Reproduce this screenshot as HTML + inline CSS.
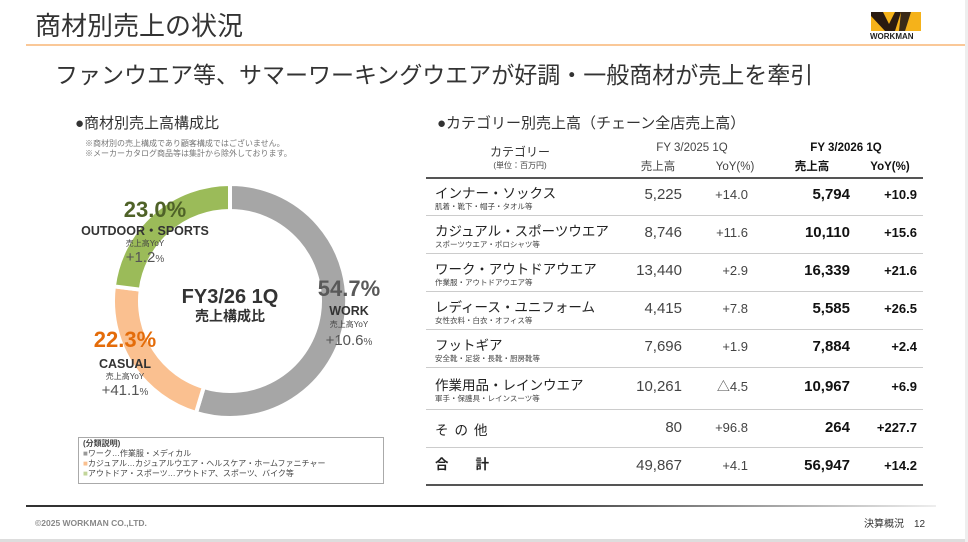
<!DOCTYPE html>
<html><head><meta charset="utf-8">
<style>
*{margin:0;padding:0;box-sizing:border-box}
body{width:968px;height:542px;background:#fff;position:relative;overflow:hidden;font-family:"Liberation Sans","Noto Sans CJK JP",sans-serif;color:#333;line-height:1.2}
.a{position:absolute;white-space:nowrap}
.c{transform:translateX(-50%);text-align:center}
.r{transform:translateX(-100%);text-align:right}
.lab{font-size:13.5px;color:#222}
.sub{font-size:7.5px;color:#444}
.n{font-size:15px;color:#444}
.b{font-size:15px;font-weight:bold;color:#111}
.hl{position:absolute;left:426px;width:497px;height:1px;background:#ccc}
</style></head><body>
<div class="a" style="left:35px;top:11px;font-size:26px;color:#333">商材別売上の状況</div>
<div class="a" style="left:26px;top:44px;width:942px;height:2px;background:#fac898"></div>
<div class="a" style="left:871px;top:12px;width:50px;height:19px;background:#f5b21a"></div>
<svg class="a" style="left:871px;top:12px" width="50" height="19"><polygon points="0,0 12,0 18,12 24,0 30,0 24,19 14,19 0,4" fill="#2a1a10"/><polygon points="30,0 40,0 34,19 28,19" fill="#3a2a18"/></svg>
<div class="a" style="left:870px;top:32px;font-size:8px;font-weight:bold;color:#222">WORKMAN</div>

<div class="a" style="left:55px;top:62px;font-size:23px;color:#333">ファンウエア等、サマーワーキングウエアが好調・一般商材が売上を牽引</div>

<div class="a" style="left:75px;top:115px;font-size:15px;color:#333">●商材別売上高構成比</div>
<div class="a" style="left:85px;top:139px;font-size:8px;color:#777;line-height:10px">※商材別の売上構成であり顧客構成ではございません。<br>※メーカーカタログ商品等は集計から除外しております。</div>

<svg class="a" style="left:0;top:0" width="400" height="440">
<path d="M230,184 A117,117 0 1 1 196.0,412.9 L203.8,387.1 A90,90 0 1 0 230,211 Z" fill="#a6a6a6" stroke="#fff" stroke-width="4"/>
<path d="M196.0,412.9 A117,117 0 0 1 113.9,286.3 L140.7,289.7 A90,90 0 0 0 203.8,387.1 Z" fill="#fac090" stroke="#fff" stroke-width="4"/>
<path d="M113.9,286.3 A117,117 0 0 1 230,184 L230,211 A90,90 0 0 0 140.7,289.7 Z" fill="#9bbb59" stroke="#fff" stroke-width="4"/>
</svg>

<div class="a c" style="left:155px;top:197px;font-size:22px;font-weight:bold;color:#4f6228">23.0%</div>
<div class="a c" style="left:145px;top:224px;font-size:12.5px;font-weight:bold;color:#333">OUTDOOR・SPORTS</div>
<div class="a c" style="left:145px;top:239px;font-size:8px;color:#444">売上高YoY</div>
<div class="a c" style="left:145px;top:249px;font-size:15px;color:#555">+1.2<span style="font-size:10px">%</span></div>

<div class="a c" style="left:349px;top:276px;font-size:22px;font-weight:bold;color:#595959">54.7%</div>
<div class="a c" style="left:349px;top:304px;font-size:12.5px;font-weight:bold;color:#333">WORK</div>
<div class="a c" style="left:349px;top:320px;font-size:8px;color:#444">売上高YoY</div>
<div class="a c" style="left:349px;top:332px;font-size:15px;color:#555">+10.6<span style="font-size:10px">%</span></div>

<div class="a c" style="left:125px;top:327px;font-size:22px;font-weight:bold;color:#e46c0a">22.3%</div>
<div class="a c" style="left:125px;top:357px;font-size:12.5px;font-weight:bold;color:#333">CASUAL</div>
<div class="a c" style="left:125px;top:372px;font-size:8px;color:#444">売上高YoY</div>
<div class="a c" style="left:125px;top:382px;font-size:15px;color:#555">+41.1<span style="font-size:10px">%</span></div>

<div class="a c" style="left:230px;top:285px;font-size:20px;font-weight:bold;color:#333">FY3/26 1Q</div>
<div class="a c" style="left:230px;top:308px;font-size:14px;font-weight:bold;color:#333">売上構成比</div>

<div class="a" style="left:78px;top:437px;width:306px;height:47px;border:1px solid #aaa"></div>
<div class="a" style="left:83px;top:439px;font-size:8px;color:#444;line-height:10px"><b>(分類説明)</b><br><span style="color:#999">■</span>ワーク…作業服・メディカル<br><span style="color:#fac090">■</span>カジュアル…カジュアルウエア・ヘルスケア・ホームファニチャー<br><span style="color:#c3d69b">■</span>アウトドア・スポーツ…アウトドア、スポーツ、バイク等</div>

<div class="a" style="left:437px;top:115px;font-size:15px;color:#333">●カテゴリー別売上高（チェーン全店売上高）</div>

<div class="a c" style="left:520px;top:145px;font-size:12px;color:#333">カテゴリー</div>
<div class="a c" style="left:520px;top:161px;font-size:8px;color:#444">(単位：百万円)</div>
<div class="a c" style="left:692px;top:142px;font-size:11.5px;color:#444">FY 3/2025 1Q</div>
<div class="a c" style="left:658px;top:161px;font-size:11.5px;color:#444">売上高</div>
<div class="a c" style="left:735px;top:161px;font-size:11.5px;color:#444">YoY(%)</div>
<div class="a c" style="left:846px;top:142px;font-size:11.5px;font-weight:bold;color:#111">FY 3/2026 1Q</div>
<div class="a c" style="left:812px;top:161px;font-size:11.5px;font-weight:bold;color:#111">売上高</div>
<div class="a c" style="left:890px;top:161px;font-size:11.5px;font-weight:bold;color:#111">YoY(%)</div>
<div class="a" style="left:426px;top:177px;width:497px;height:2px;background:#555"></div>

<div class="hl" style="top:215px"></div>
<div class="hl" style="top:253px"></div>
<div class="hl" style="top:291px"></div>
<div class="hl" style="top:329px"></div>
<div class="hl" style="top:367px"></div>
<div class="hl" style="top:409px"></div>
<div class="hl" style="top:447px"></div>
<div class="a" style="left:426px;top:484px;width:497px;height:2px;background:#555"></div>

<div class="a lab" style="left:435px;top:186px">インナー・ソックス</div><div class="a sub" style="left:435px;top:202px">肌着・靴下・帽子・タオル等</div>
<div class="a n r" style="left:682px;top:186px">5,225</div><div class="a n r" style="left:748px;top:187px;font-size:13px">+14.0</div>
<div class="a b r" style="left:850px;top:186px">5,794</div><div class="a b r" style="left:917px;top:187px;font-size:13px">+10.9</div>

<div class="a lab" style="left:435px;top:224px">カジュアル・スポーツウエア</div><div class="a sub" style="left:435px;top:240px">スポーツウエア・ポロシャツ等</div>
<div class="a n r" style="left:682px;top:224px">8,746</div><div class="a n r" style="left:748px;top:225px;font-size:13px">+11.6</div>
<div class="a b r" style="left:850px;top:224px">10,110</div><div class="a b r" style="left:917px;top:225px;font-size:13px">+15.6</div>

<div class="a lab" style="left:435px;top:262px">ワーク・アウトドアウエア</div><div class="a sub" style="left:435px;top:278px">作業服・アウトドアウエア等</div>
<div class="a n r" style="left:682px;top:262px">13,440</div><div class="a n r" style="left:748px;top:263px;font-size:13px">+2.9</div>
<div class="a b r" style="left:850px;top:262px">16,339</div><div class="a b r" style="left:917px;top:263px;font-size:13px">+21.6</div>

<div class="a lab" style="left:435px;top:300px">レディース・ユニフォーム</div><div class="a sub" style="left:435px;top:316px">女性衣料・白衣・オフィス等</div>
<div class="a n r" style="left:682px;top:300px">4,415</div><div class="a n r" style="left:748px;top:301px;font-size:13px">+7.8</div>
<div class="a b r" style="left:850px;top:300px">5,585</div><div class="a b r" style="left:917px;top:301px;font-size:13px">+26.5</div>

<div class="a lab" style="left:435px;top:338px">フットギア</div><div class="a sub" style="left:435px;top:354px">安全靴・足袋・長靴・厨房靴等</div>
<div class="a n r" style="left:682px;top:338px">7,696</div><div class="a n r" style="left:748px;top:339px;font-size:13px">+1.9</div>
<div class="a b r" style="left:850px;top:338px">7,884</div><div class="a b r" style="left:917px;top:339px;font-size:13px">+2.4</div>

<div class="a lab" style="left:435px;top:378px">作業用品・レインウエア</div><div class="a sub" style="left:435px;top:394px">軍手・保護具・レインスーツ等</div>
<div class="a n r" style="left:682px;top:378px">10,261</div><div class="a n r" style="left:748px;top:379px;font-size:13px">△4.5</div>
<div class="a b r" style="left:850px;top:378px">10,967</div><div class="a b r" style="left:917px;top:379px;font-size:13px">+6.9</div>

<div class="a lab" style="left:435px;top:423px;letter-spacing:6px">その他</div>
<div class="a n r" style="left:682px;top:419px">80</div><div class="a n r" style="left:748px;top:420px;font-size:13px">+96.8</div>
<div class="a b r" style="left:850px;top:419px">264</div><div class="a b r" style="left:917px;top:420px;font-size:13px">+227.7</div>

<div class="a lab" style="left:435px;top:457px;font-weight:bold">合　　計</div>
<div class="a n r" style="left:682px;top:457px">49,867</div><div class="a n r" style="left:748px;top:458px;font-size:13px">+4.1</div>
<div class="a b r" style="left:850px;top:457px">56,947</div><div class="a b r" style="left:917px;top:458px;font-size:13px">+14.2</div>

<div class="a" style="left:26px;top:505px;width:910px;height:2px;background:linear-gradient(to right,#333,#222 50%,#eee)"></div>
<div class="a" style="left:35px;top:518px;font-size:8.5px;font-weight:bold;color:#888">©2025 WORKMAN CO.,LTD.</div>
<div class="a" style="left:864px;top:519px;font-size:10px;color:#333">決算概況　12</div>
<div class="a" style="left:0;top:539px;width:968px;height:3px;background:#ddd"></div>
<div class="a" style="left:965px;top:0;width:3px;height:542px;background:#eee"></div>
</body></html>
